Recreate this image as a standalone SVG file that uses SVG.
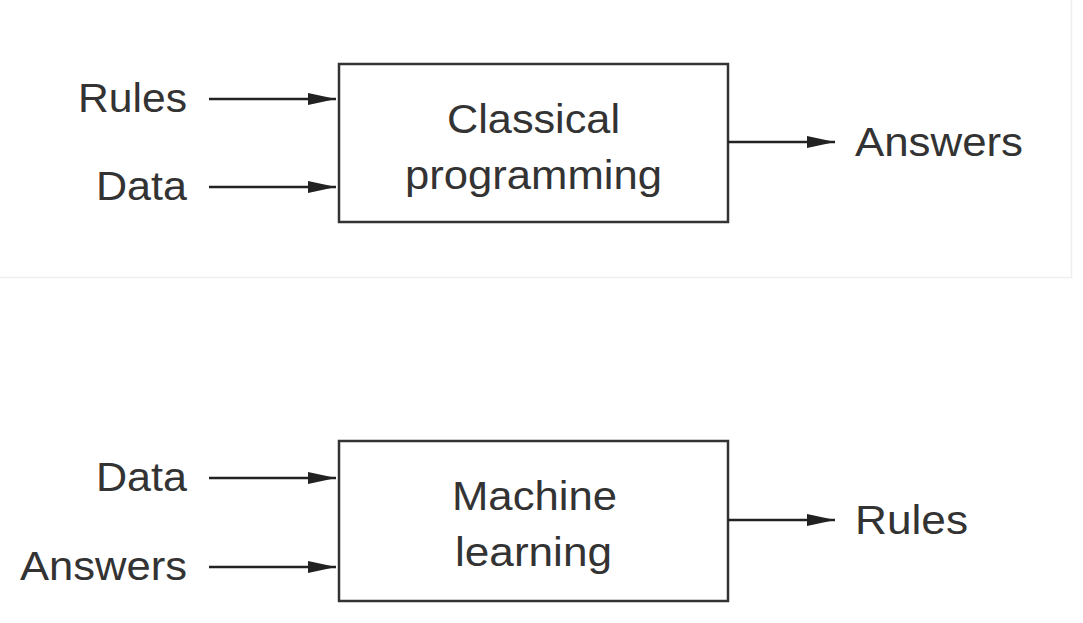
<svg xmlns="http://www.w3.org/2000/svg" width="1083" height="623" viewBox="0 0 1083 623">
<style>
text{font-family:"Liberation Sans",Arial,sans-serif;font-size:40px;fill:#333}
.box{fill:#fff;stroke:#333;stroke-width:2.5}
.c line{stroke:#222;stroke-width:2.5}
</style>
<defs>
<marker id="b" markerWidth="28" markerHeight="12" refX="28" refY="6" orient="auto" markerUnits="userSpaceOnUse"><path d="M0,0 L28,6 L0,12z" fill="#222"/></marker></defs>
<rect width="1083" height="623" fill="#fff"/>
<path d="M0,277.5 H1071.5 V0" fill="none" stroke="#eee" stroke-width="1.5"/>
<g id="classical"><rect class="box" x="339" y="64" width="389" height="158"/><text x="447" y="133" textLength="173" lengthAdjust="spacingAndGlyphs">Classical</text><text x="405" y="189" textLength="257" lengthAdjust="spacingAndGlyphs">programming</text></g>
<g id="ml"><rect class="box" x="339" y="441" width="389" height="160"/><text x="452" y="510" textLength="165" lengthAdjust="spacingAndGlyphs">Machine</text><text x="455" y="566" textLength="157" lengthAdjust="spacingAndGlyphs">learning</text></g>
<g id="l1"><text x="78" y="112" textLength="109" lengthAdjust="spacingAndGlyphs">Rules</text></g>
<g id="l2"><text x="96" y="200" textLength="91" lengthAdjust="spacingAndGlyphs">Data</text></g>
<g id="l3"><text x="855" y="156" textLength="168" lengthAdjust="spacingAndGlyphs">Answers</text></g>
<g id="l4"><text x="96" y="491" textLength="91" lengthAdjust="spacingAndGlyphs">Data</text></g>
<g id="l5"><text x="20" y="580" textLength="167" lengthAdjust="spacingAndGlyphs">Answers</text></g>
<g id="l6"><text x="855" y="534" textLength="113" lengthAdjust="spacingAndGlyphs">Rules</text></g>
<g class="c" id="connectors">
<line x1="209" y1="99" x2="336" y2="99" marker-end="url(#b)"/>
<line x1="209" y1="187" x2="336" y2="187" marker-end="url(#b)"/>
<line x1="728" y1="142" x2="835" y2="142" marker-end="url(#b)"/>
<line x1="209" y1="478" x2="336" y2="478" marker-end="url(#b)"/>
<line x1="209" y1="567" x2="336" y2="567" marker-end="url(#b)"/>
<line x1="728" y1="520" x2="835" y2="520" marker-end="url(#b)"/>
</g>
</svg>
